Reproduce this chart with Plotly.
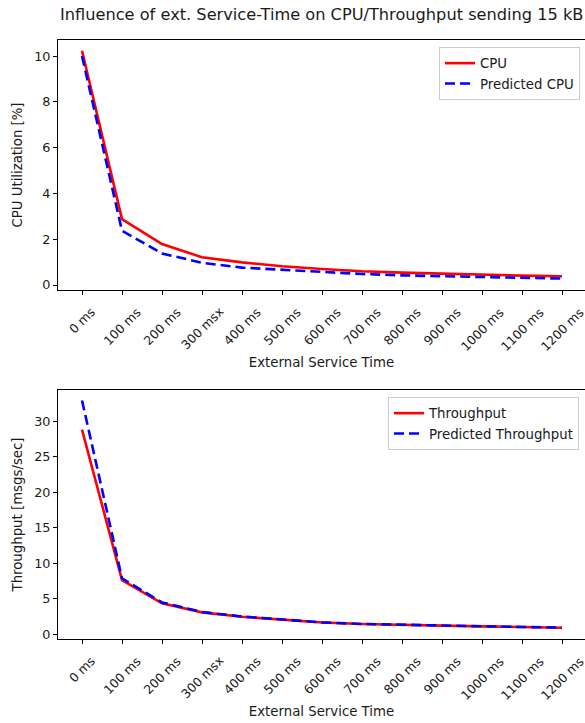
import plotly.graph_objects as go

categories = ["0 ms", "100 ms", "200 ms", "300 msx", "400 ms", "500 ms", "600 ms",
              "700 ms", "800 ms", "900 ms", "1000 ms", "1100 ms", "1200 ms"]
cpu = [10.23, 2.88, 1.79, 1.21, 0.99, 0.82, 0.70, 0.60, 0.54, 0.49, 0.45, 0.41, 0.38]
cpu_pred = [10.0, 2.37, 1.38, 0.97, 0.76, 0.66, 0.55, 0.48, 0.42, 0.38, 0.34, 0.31, 0.28]
thr = [28.8, 7.6, 4.32, 3.05, 2.44, 2.07, 1.62, 1.41, 1.27, 1.17, 1.08, 0.99, 0.89]
thr_pred = [32.9, 7.85, 4.45, 3.1, 2.47, 2.08, 1.64, 1.42, 1.28, 1.18, 1.09, 1.0, 0.9]

title_text = "Influence of ext. Service-Time on CPU/Throughput sending 15 kB"
xlabel = "External Service Time"
ylabel_top = "CPU Utilization [%]"
ylabel_bottom = "Throughput [msgs/sec]"

FONT = "DejaVu Sans"
TXT = "#1a1a1a"
FS = 13.3
TFS = 12.8
RFS = 12.4

fig = go.Figure()
fig.add_trace(go.Scatter(x=categories, y=cpu, name="CPU", mode="lines",
                         line=dict(color="#ff0000", width=2.6), xaxis="x", yaxis="y", legend="legend"))
fig.add_trace(go.Scatter(x=categories, y=cpu_pred, name="Predicted CPU", mode="lines",
                         line=dict(color="#0000ff", width=2.6, dash="10px,5px"), xaxis="x", yaxis="y", legend="legend"))
fig.add_trace(go.Scatter(x=categories, y=thr, name="Throughput", mode="lines",
                         line=dict(color="#ff0000", width=2.6), xaxis="x2", yaxis="y2", legend="legend2"))
fig.add_trace(go.Scatter(x=categories, y=thr_pred, name="Predicted Throughput", mode="lines",
                         line=dict(color="#0000ff", width=2.6, dash="10px,5px"), xaxis="x2", yaxis="y2", legend="legend2"))

xr = [-0.6, 12.575]
common_x = dict(type="category", range=xr, showgrid=False, zeroline=False, showline=True,
                linecolor="black", linewidth=1, mirror=True, ticks="outside", ticklen=4,
                tickcolor="black", showticklabels=False,
                title=dict(text=xlabel, font=dict(family=FONT, size=FS, color=TXT), standoff=63))
common_y = dict(showgrid=False, zeroline=False, showline=True, linecolor="black", linewidth=1,
                mirror=False, ticks="outside", ticklen=4, tickcolor="black",
                tickfont=dict(family=FONT, size=TFS, color=TXT))

top_dom = [(639 - 290) / 599, 1.0]
bot_dom = [0.0, (639 - 390) / 599]

legend_common = dict(xanchor="right", yanchor="top", bgcolor="white", bordercolor="#cccccc",
                     borderwidth=1, font=dict(family=FONT, size=FS, color=TXT))

fig.update_layout(
    width=585, height=723, autosize=False,
    margin=dict(l=58, r=0, t=40, b=84),
    paper_bgcolor="white", plot_bgcolor="white",
    font=dict(family=FONT, size=FS, color=TXT),
    title=dict(text=title_text, x=60 / 585, xref="container", xanchor="left",
               y=1 - 14 / 723, yref="container", yanchor="middle",
               font=dict(family=FONT, size=16.2, color=TXT)),
    xaxis=dict(domain=[0, 1], anchor="y", **common_x),
    yaxis=dict(domain=top_dom, anchor="x", range=[-0.218, 10.70], tickvals=[0, 2, 4, 6, 8, 10],
               title=dict(text=ylabel_top, font=dict(family=FONT, size=FS, color=TXT), standoff=8),
               **common_y),
    xaxis2=dict(domain=[0, 1], anchor="y2", **common_x),
    yaxis2=dict(domain=bot_dom, anchor="x2", range=[-0.70, 34.37], tickvals=[0, 5, 10, 15, 20, 25, 30],
                title=dict(text=ylabel_bottom, font=dict(family=FONT, size=FS, color=TXT), standoff=8),
                **common_y),
    legend=dict(x=(580 - 58) / 527, y=(639 - 47) / 599, **legend_common),
    legend2=dict(x=(579 - 58) / 527, y=(639 - 397) / 599, **legend_common),
    showlegend=True,
)

# rotated category labels (matplotlib-style, centred under each tick)
for xa, ya in (("x", "y domain"), ("x2", "y2 domain")):
    for c in categories:
        fig.add_annotation(x=c, y=0, xref=xa, yref=ya, text=c, textangle=-45,
                           showarrow=False, xanchor="center", yanchor="top", yshift=-12,
                           font=dict(family=FONT, size=RFS, color=TXT))

fig.write_html("out.html", config={"displayModeBar": False},
               post_script="document.body.style.margin='0';document.body.style.overflow='hidden';")
